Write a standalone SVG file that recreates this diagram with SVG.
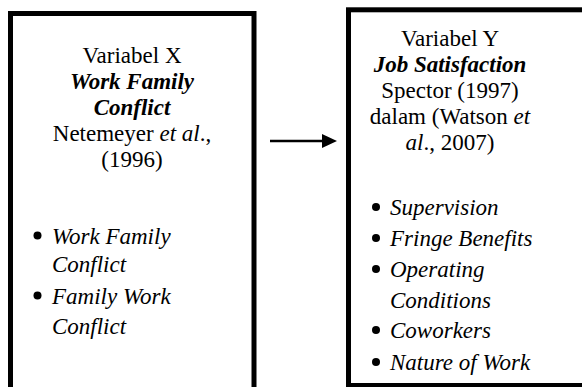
<svg xmlns="http://www.w3.org/2000/svg" width="582" height="387" viewBox="0 0 582 387" font-family="'Liberation Serif', 'Times New Roman', 'DejaVu Serif', serif">
<style>
.box{fill:#fff;stroke:#000;stroke-width:5}
text{font-family:'Liberation Serif','Times New Roman','DejaVu Serif',serif;font-size:23px;fill:#000}
.c{text-anchor:middle}
.bi{font-weight:bold;font-style:italic}
.i{font-style:italic}
</style>
<rect width="582" height="387" fill="#fff"/>
<g id="nodeX">
<rect class="box" x="10.5" y="13.5" width="243.5" height="400"/>
<text class="c" x="132" y="62.5">Variabel X</text>
<text class="c bi" x="132" y="88.5">Work Family</text>
<text class="c bi" x="132" y="114.5">Conflict</text>
<text class="c" x="132" y="140.5">Netemeyer <tspan class="i">et al</tspan>.,</text>
<text class="c" x="132" y="166.5">(1996)</text>
<circle cx="37.5" cy="235.5" r="4"/>
<text class="i" x="52" y="244">Work Family</text>
<text class="i" x="52" y="272">Conflict</text>
<circle cx="37.5" cy="295.5" r="4"/>
<text class="i" x="52" y="304">Family Work</text>
<text class="i" x="52" y="334">Conflict</text>
</g>
<g id="nodeY">
<rect class="box" x="348.5" y="9.8" width="260" height="375.7"/>
<text class="c" x="450" y="46">Variabel Y</text>
<text class="c bi" x="450" y="72">Job Satisfaction</text>
<text class="c" x="450" y="98">Spector (1997)</text>
<text class="c" x="450" y="124">dalam (Watson <tspan class="i">et</tspan></text>
<text class="c" x="450" y="150"><tspan class="i">al</tspan>., 2007)</text>
<circle cx="376" cy="207" r="4"/>
<text class="i" x="390" y="215">Supervision</text>
<circle cx="376" cy="238" r="4"/>
<text class="i" x="390" y="246">Fringe Benefits</text>
<circle cx="376" cy="269" r="4"/>
<text class="i" x="390" y="277">Operating</text>
<text class="i" x="390" y="308">Conditions</text>
<circle cx="376" cy="330" r="4"/>
<text class="i" x="390" y="338">Coworkers</text>
<circle cx="376" cy="362" r="4"/>
<text class="i" x="390" y="370">Nature of Work</text>
</g>
<g id="connectors">
<line x1="270" y1="141" x2="324" y2="141" stroke="#000" stroke-width="2.5"/>
<polygon points="322,134 337,141 322,148" fill="#000"/>
</g>
</svg>
